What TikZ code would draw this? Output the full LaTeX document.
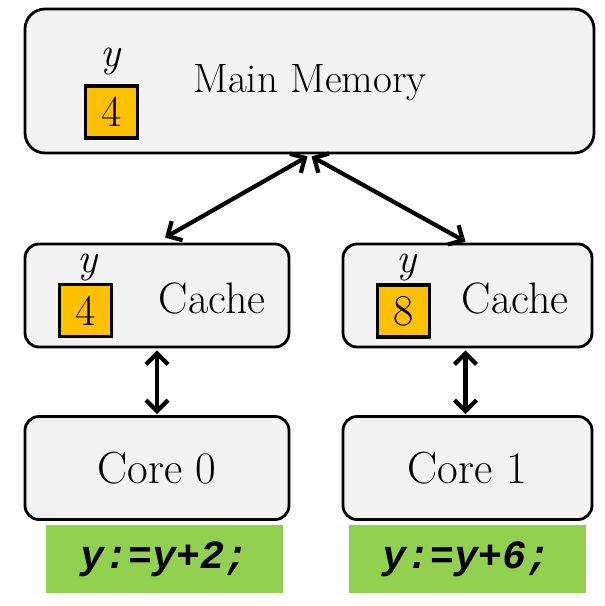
\documentclass[tikz,border=0pt]{standalone}
\usepackage{fontspec}
\newfontfamily\codefont{Liberation Mono}
\usetikzlibrary{arrows.meta}
\definecolor{boxfill}{HTML}{F2F2F2}
\definecolor{valfill}{HTML}{FFC000}
\definecolor{codefill}{HTML}{92D050}
\tikzset{
  unitbox/.style={draw=black, line width=2.8pt, fill=boxfill, rounded corners=14pt, inner sep=0pt,
    font=\fontsize{45}{52}\selectfont},
  labeltext/.style={inner sep=0pt, font=\fontsize{44}{52}\selectfont},
  valbox/.style={draw=black, line width=3.8pt, fill=valfill, inner sep=0pt,
    minimum width=52pt, minimum height=52pt, font=\fontsize{44}{48}\selectfont},
  varlabel/.style={inner sep=0pt, font=\fontsize{42}{50}\selectfont\itshape},
  codebox/.style={fill=codefill, inner sep=0pt, minimum width=237pt, minimum height=68pt,
    font=\fontsize{40}{44}\selectfont\codefont\bfseries\itshape},
  conn/.style={line width=4.2pt, {Straight Barb[length=11pt,width=22pt]}-{Straight Barb[length=11pt,width=22pt]}}
}
\begin{document}
\begin{tikzpicture}[x=1pt,y=-1pt]
\useasboundingbox (0,0) rectangle (605,606);
% main memory
\node[unitbox, rounded corners=20pt, minimum width=569pt, minimum height=144pt] (mm) at (309.5,81) {};
\node[inner sep=0pt, font=\fontsize{41}{48}\selectfont] (mmt) at (310,83) {Main Memory};
\node[valbox] (mmv) at (111.5,112) {4};
\node[varlabel] (mmy) at (110,62) {y};
% caches
\node[unitbox, minimum width=264pt, minimum height=103pt] (c0) at (157,295.5) {};
\node[unitbox, minimum width=249pt, minimum height=103pt] (c1) at (467.5,295.5) {};
\node[labeltext] (c0t) at (212,298) {Cache};
\node[labeltext] (c1t) at (515,298) {Cache};
\node[valbox] (c0v) at (85.5,310.5) {4};
\node[valbox] (c1v) at (403.5,311) {8};
\node[varlabel] (c0y) at (87,268) {y};
\node[varlabel] (c1y) at (406,268) {y};
% cores
\node[unitbox, minimum width=264pt, minimum height=103pt] (k0) at (157,468) {Core 0};
\node[unitbox, minimum width=249pt, minimum height=103pt] (k1) at (467.5,468) {Core 1};
% code
\node[codebox] (p0) at (164.5,559) {y:=y+2;};
\node[codebox] (p1) at (467,559) {y:=y+6;};
% connectors
\draw[conn] ([xshift=-2pt,yshift=-2pt]mm.south) -- ([xshift=8pt,yshift=5pt]c0.north);
\draw[conn] ([xshift=2pt,yshift=-2pt]mm.south) -- ([xshift=-2pt,yshift=1pt]c1.north);
\draw[conn] ([yshift=-2pt]c0.south) -- ([yshift=1pt]k0.north);
\draw[conn] ([xshift=-2pt,yshift=-2pt]c1.south) -- ([xshift=-2pt,yshift=1pt]k1.north);
\end{tikzpicture}
\end{document}
